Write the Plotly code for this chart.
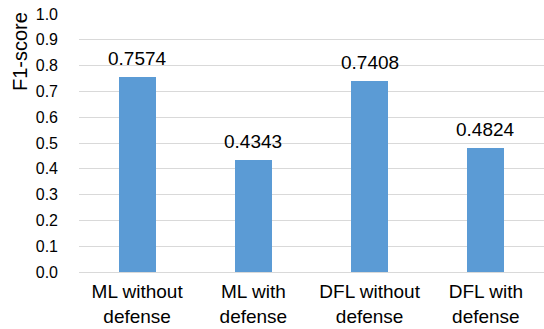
import plotly.graph_objects as go

categories = ["ML without<br>defense", "ML with<br>defense", "DFL without<br>defense", "DFL with<br>defense"]
f1_scores = [0.7574, 0.4343, 0.7408, 0.4824]
y_ticks = [round(i * 0.1, 1) for i in range(11)]
y_tick_labels = [f"{v:.1f}" for v in y_ticks]

font_family = "Liberation Sans, Arial, sans-serif"
text_color = "#000000"

WIDTH, HEIGHT = 544, 329
MARGIN = dict(l=79, r=0, t=14, b=57)
plot_w = WIDTH - MARGIN["l"] - MARGIN["r"]
plot_h = HEIGHT - MARGIN["t"] - MARGIN["b"]

fig = go.Figure(
    go.Bar(
        x=categories,
        y=f1_scores,
        marker=dict(color="#5B9BD5", line=dict(width=0)),
        width=0.32,
        hoverinfo="x+y",
    )
)

# value labels above each bar
for cat, val in zip(categories, f1_scores):
    fig.add_annotation(
        x=cat,
        y=val,
        xref="x",
        yref="y",
        text=f"{val:.4f}",
        showarrow=False,
        yanchor="bottom",
        yshift=6,
        font=dict(size=19, color=text_color, family=font_family),
    )

# y-axis title sits near the top of the axis, centred at (20px, 51px)
fig.add_annotation(
    x=(20 - MARGIN["l"]) / plot_w,
    y=(HEIGHT - MARGIN["b"] - 51) / plot_h,
    xref="paper",
    yref="paper",
    xanchor="center",
    yanchor="middle",
    text="F1-score",
    textangle=-90,
    showarrow=False,
    font=dict(size=20, color=text_color, family=font_family),
)

fig.update_layout(
    width=WIDTH,
    height=HEIGHT,
    margin=MARGIN,
    plot_bgcolor="white",
    paper_bgcolor="white",
    showlegend=False,
    font=dict(family=font_family, color=text_color),
    bargap=0,
)

fig.update_xaxes(
    tickfont=dict(size=19, color=text_color),
    showline=False,
    showgrid=False,
    ticks="",
    ticklabelstandoff=6,
)

fig.update_yaxes(
    range=[0, 1.0],
    tickvals=y_ticks,
    ticktext=y_tick_labels,
    tickfont=dict(size=16, color=text_color),
    showgrid=True,
    gridcolor="#D9D9D9",
    gridwidth=1,
    zeroline=True,
    zerolinecolor="#D9D9D9",
    zerolinewidth=1,
    ticks="",
    ticklabelstandoff=20,
)

fig.write_html("out.html")
